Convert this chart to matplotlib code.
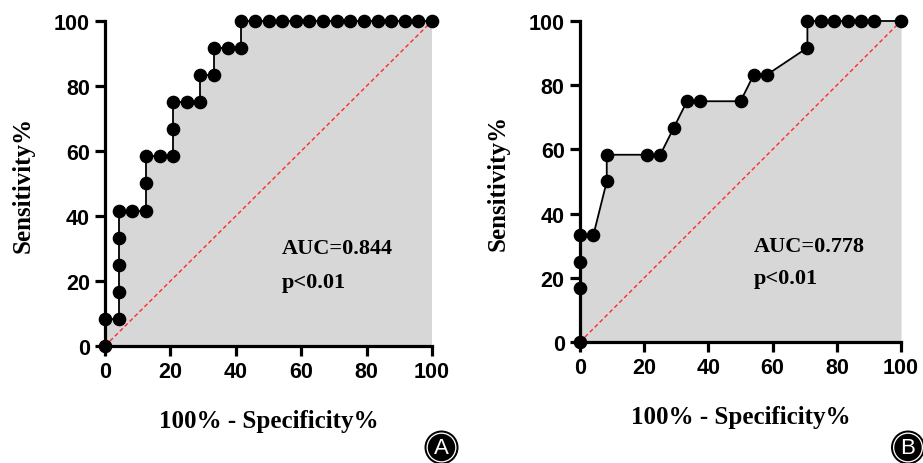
import matplotlib
matplotlib.use("Agg")
import matplotlib.pyplot as plt
from matplotlib.patches import Circle
from matplotlib import font_manager

# ROC panel A
a_fpr = [0, 0, 4.17, 4.17, 4.17, 4.17, 4.17, 8.33, 12.5, 12.5, 12.5, 16.67,
         20.83, 20.83, 20.83, 25, 29.17, 29.17, 33.33, 33.33, 37.5, 41.67,
         41.67, 45.83, 50, 54.17, 58.33, 62.5, 66.67, 70.83, 75, 79.17,
         83.33, 87.5, 91.67, 95.83, 100]
a_sens = [0, 8.33, 8.33, 16.67, 25, 33.33, 41.67, 41.67, 41.67, 50, 58.33, 58.33,
          58.33, 66.67, 75, 75, 75, 83.33, 83.33, 91.67, 91.67, 91.67,
          100, 100, 100, 100, 100, 100, 100, 100, 100, 100,
          100, 100, 100, 100, 100]
a_auc = "AUC=0.844"

# ROC panel B
b_fpr = [0, 0, 0, 0, 4.17, 8.33, 8.33, 20.83, 25, 29.17, 33.33, 37.5, 50,
         54.17, 58.33, 70.83, 70.83, 75, 79.17, 83.33, 87.5, 91.67, 100]
b_sens = [0, 16.67, 25, 33.33, 33.33, 50, 58.33, 58.33, 58.33, 66.67, 75, 75, 75,
          83.33, 83.33, 91.67, 100, 100, 100, 100, 100, 100, 100]
b_auc = "AUC=0.778"

p_text = "p<0.01"
ticks = [0, 20, 40, 60, 80, 100]

names = {f.name for f in font_manager.fontManager.ttflist}
serif = "Liberation Serif" if "Liberation Serif" in names else "DejaVu Serif"
sans = "Liberation Sans" if "Liberation Sans" in names else "DejaVu Sans"

fig = plt.figure(figsize=(9.23, 4.64), dpi=100)
axA = fig.add_axes([0.1138, 0.2522, 0.3543, 0.7004])
axB = fig.add_axes([0.6284, 0.2608, 0.3478, 0.6918])


def draw_roc(ax, fpr, sens, auc):
    ax.fill_between(fpr, sens, 0, color="#d7d7d7", lw=0, zorder=1)
    ax.plot([0, 100], [0, 100], color="#ff2a2a", lw=1.0, ls=(0, (3, 2)), zorder=2)
    ax.plot(fpr, sens, color="black", lw=1.3, marker="o", ms=8.8,
            clip_on=False, zorder=5)
    ax.set_xlim(0, 100)
    ax.set_ylim(0, 100)
    ax.set_xticks(ticks)
    ax.set_yticks(ticks)
    for s in ["top", "right"]:
        ax.spines[s].set_visible(False)
    for s in ["left", "bottom"]:
        ax.spines[s].set_linewidth(2.3)
        ax.spines[s].set_zorder(4)
    ax.tick_params(width=2.3, length=7, pad=4)
    for lab in ax.get_xticklabels() + ax.get_yticklabels():
        lab.set_fontfamily(sans)
        lab.set_fontweight("bold")
        lab.set_fontsize(15.5)
    ax.set_xlabel("100% - Specificity%", fontfamily=serif, fontweight="bold",
                  fontsize=18, labelpad=19)
    ax.set_ylabel("Sensitivity%", fontfamily=serif, fontweight="bold",
                  fontsize=18, labelpad=14)
    ax.text(54, 30, auc, fontfamily=serif, fontweight="bold", fontsize=16,
            va="center", ha="left", zorder=6)
    ax.text(54, 19.8, p_text, fontfamily=serif, fontweight="bold", fontsize=16,
            va="center", ha="left", zorder=6)


draw_roc(axA, a_fpr, a_sens, a_auc)
draw_roc(axB, b_fpr, b_sens, b_auc)

# panel letters
for cx, letter in [(4.415, "A"), (9.08, "B")]:
    cy = 0.155
    for r, c in [(0.17, "black"), (0.15, "white"), (0.137, "black")]:
        fig.add_artist(Circle((cx, cy), r, transform=fig.dpi_scale_trans,
                              facecolor=c, edgecolor="none"))
    fig.text(cx / 9.23, cy / 4.64, letter, color="white", fontfamily=sans,
             fontsize=16, ha="center", va="center")

fig.savefig("out.png", dpi=100)
plt.close(fig)
